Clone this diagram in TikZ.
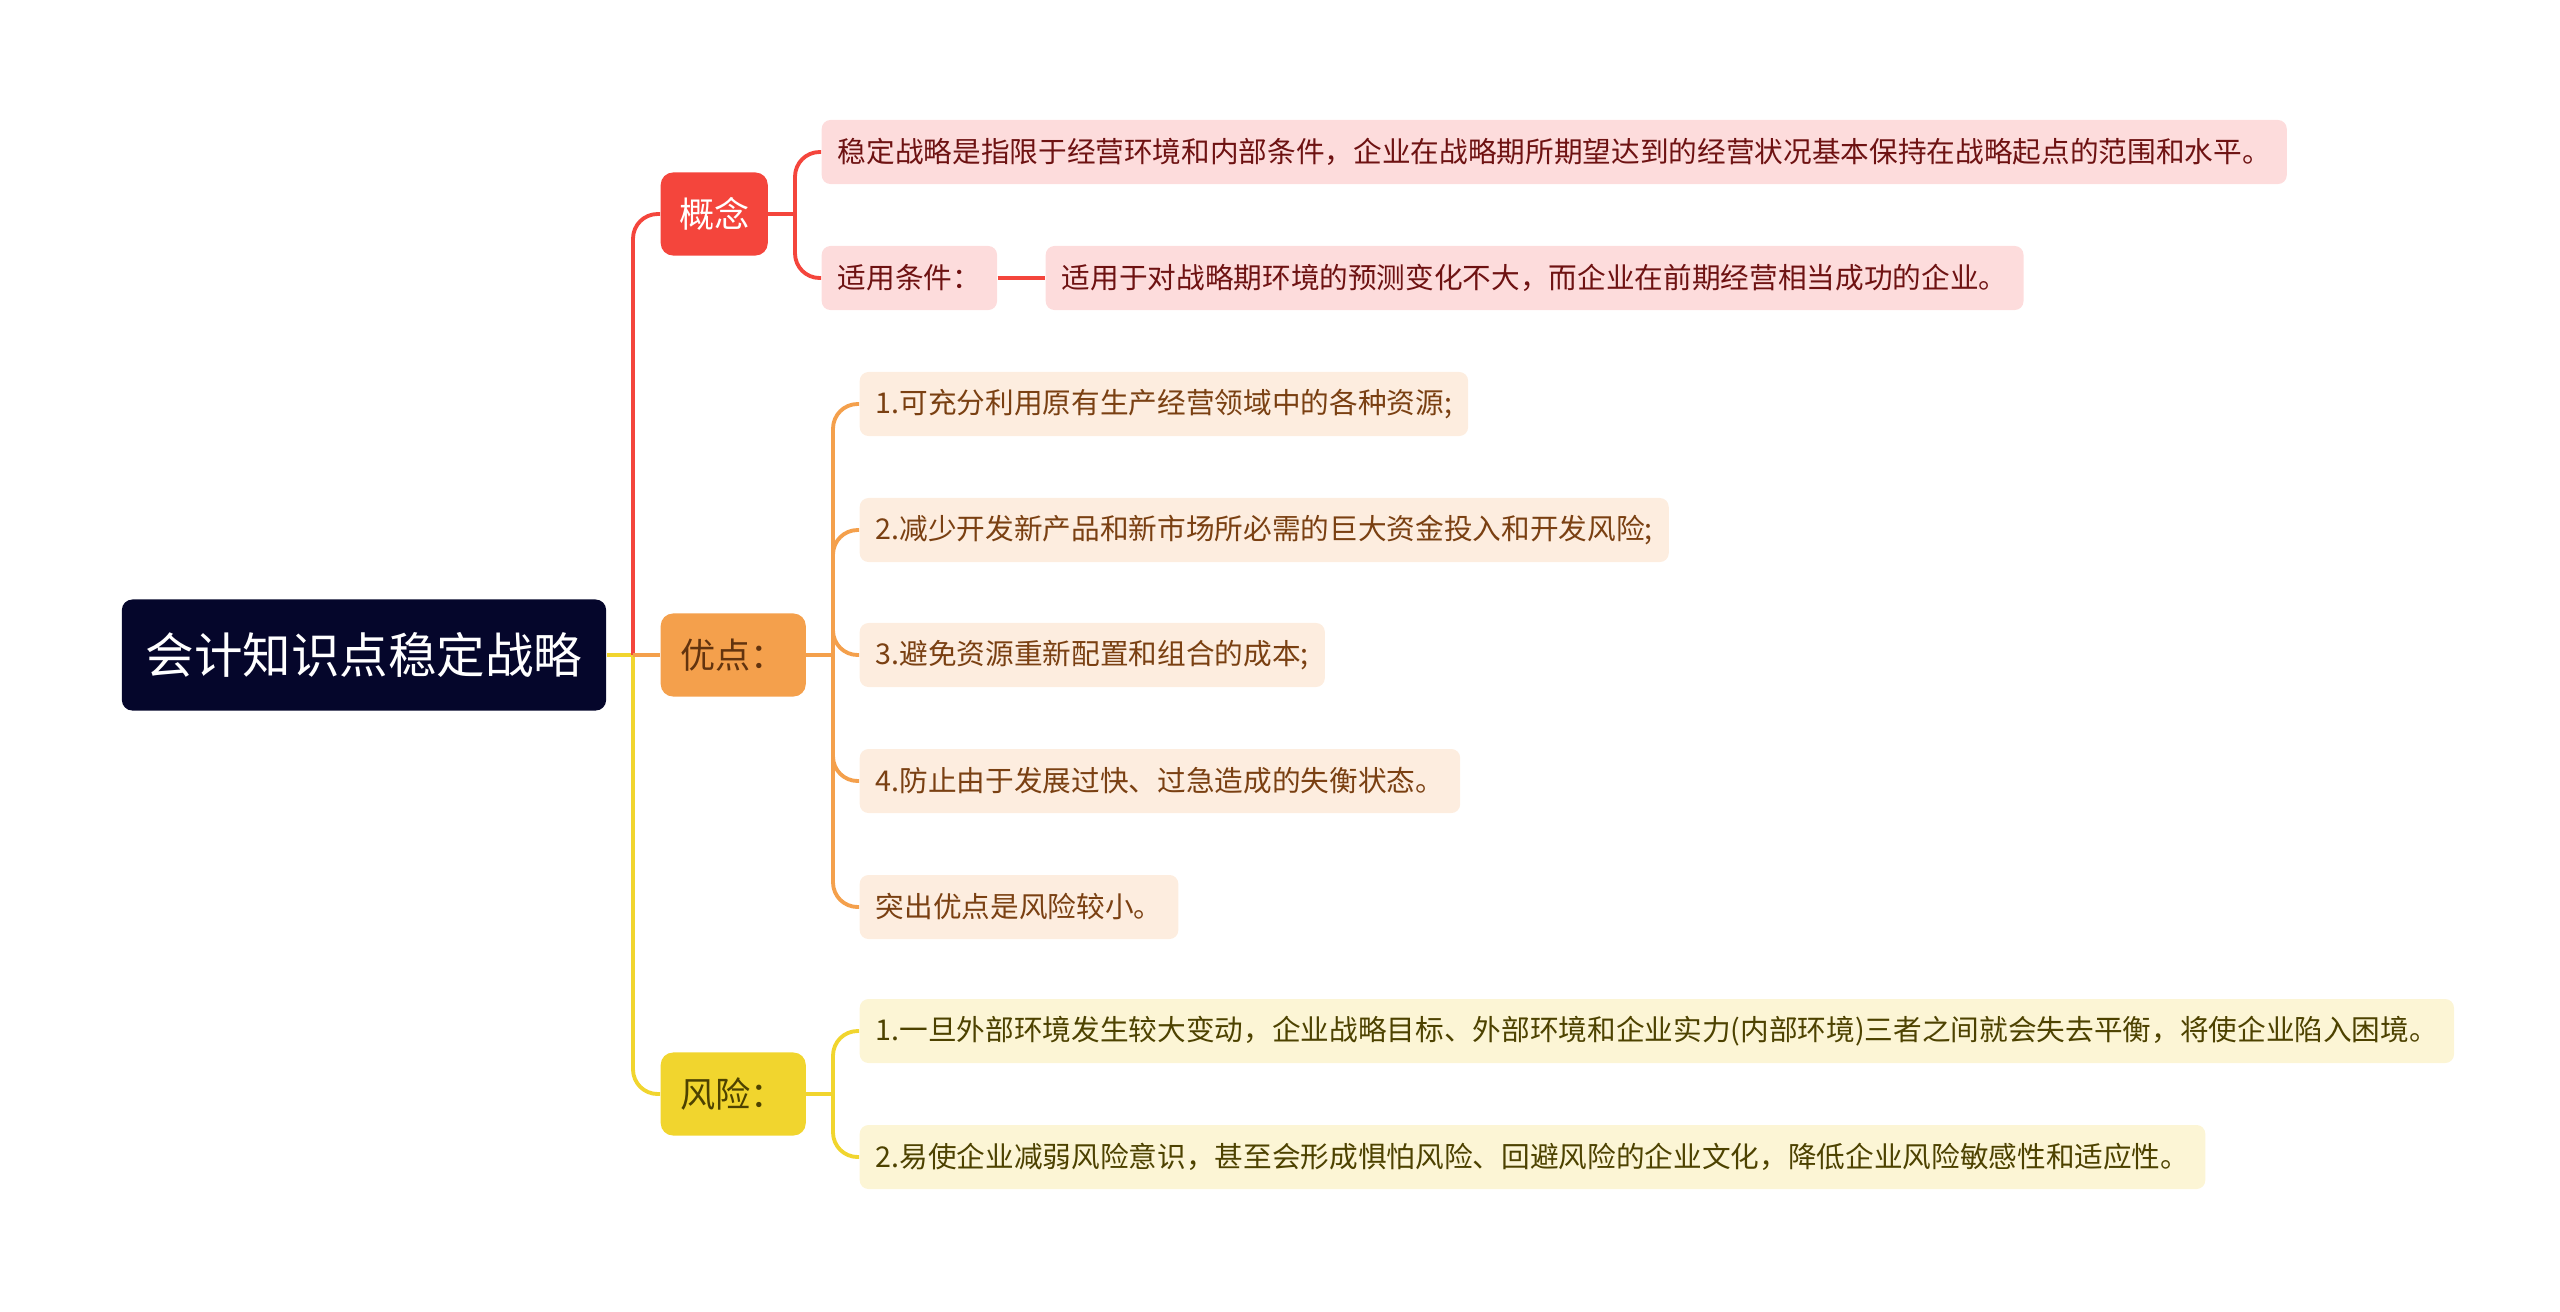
\documentclass[tikz,border=0pt]{standalone}
\usepackage{fontspec}
\setmainfont{Noto Sans CJK SC}
\usetikzlibrary{calc}
\definecolor{rootbg}{HTML}{05062B}
\definecolor{gnred}{HTML}{F4453C}
\definecolor{ydorange}{HTML}{F4A04C}
\definecolor{fxyellow}{HTML}{F1D52E}
\definecolor{gnleaf}{HTML}{FDDCDC}
\definecolor{ydleaf}{HTML}{FDEDDF}
\definecolor{fxleaf}{HTML}{FCF5D5}
\definecolor{gntext}{HTML}{6E1212}
\definecolor{ydtext}{HTML}{7A4012}
\definecolor{fxtext}{HTML}{4D4200}

\begin{document}
\begin{tikzpicture}[
  x=0.01cm, y=-0.01cm,
  every node/.style={anchor=west, inner sep=0pt, align=left},
  root/.style={fill=rootbg, text=white, rounded corners=3pt, minimum width=4.84cm, minimum height=1.11cm, font=\fontsize{13.8}{16}\selectfont},
  topic/.style={rounded corners=3.5pt, minimum height=0.83cm, font=\fontsize{10}{12}\selectfont},
  leaf/.style={rounded corners=2.5pt, minimum height=0.64cm, inner xsep=0.16cm, font=\fontsize{8.15}{10}\selectfont},
  gnleafbox/.style={leaf, fill=gnleaf, text=gntext},
  ydleafbox/.style={leaf, fill=ydleaf, text=ydtext},
  fxleafbox/.style={leaf, fill=fxleaf, text=fxtext},
  redln/.style={draw=gnred, line width=1.1pt, rounded corners=7pt},
  orgln/.style={draw=ydorange, line width=1.1pt, rounded corners=7pt},
  yelln/.style={draw=fxyellow, line width=1.1pt, rounded corners=7pt}
]
\useasboundingbox (0,0) rectangle (2560,1311);

\node[root, anchor=center] (root) at (364,655) {会计知识点稳定战略};

\node[topic, fill=gnred, text=white, minimum width=1.07cm] (gainian) at (660,214) {概念};
\node[topic, fill=ydorange, text=ydtext!80!black, minimum width=1.45cm] (youdian) at (660,655) {优点：};
\node[topic, fill=fxyellow, text=fxtext, minimum width=1.45cm] (fengxian) at (660,1094) {风险：};

% concept
\node[gnleafbox] (dingyi) at (821,152) {稳定战略是指限于经营环境和内部条件，企业在战略期所期望达到的经营状况基本保持在战略起点的范围和水平。};
\node[gnleafbox] (tiaojian) at (821,278) {适用条件：};
\node[gnleafbox] (tiaojiantxt) at (1045,278) {适用于对战略期环境的预测变化不大，而企业在前期经营相当成功的企业。};

% advantages
\node[ydleafbox] (yd1) at (859,404) {1.可充分利用原有生产经营领域中的各种资源;};
\node[ydleafbox] (yd2) at (859,530) {2.减少开发新产品和新市场所必需的巨大资金投入和开发风险;};
\node[ydleafbox] (yd3) at (859,655) {3.避免资源重新配置和组合的成本;};
\node[ydleafbox] (yd4) at (859,781) {4.防止由于发展过快、过急造成的失衡状态。};
\node[ydleafbox] (yd5) at (859,907) {突出优点是风险较小。};

% risks
\node[fxleafbox] (fx1) at (859,1031) {1.一旦外部环境发生较大变动，企业战略目标、外部环境和企业实力(内部环境)三者之间就会失去平衡，将使企业陷入困境。};
\node[fxleafbox] (fx2) at (859,1157) {2.易使企业减弱风险意识，甚至会形成惧怕风险、回避风险的企业文化，降低企业风险敏感性和适应性。};

\coordinate (trunk) at (633,655);
\coordinate (gnfork) at (795,214);
\coordinate (ydfork) at (833,655);
\coordinate (fxfork) at (833,1094);

\draw[yelln] (root.east) -- (trunk);
\draw[redln] (trunk) |- (gainian.west);
\draw[yelln] (trunk) |- (fengxian.west);
\draw[orgln] (trunk) -- (youdian.west);

\draw[redln] (gainian.east) -- (gnfork);
\draw[redln] (gnfork) |- (dingyi.west);
\draw[redln] (gnfork) |- (tiaojian.west);
\draw[redln] (tiaojian.east) -- (tiaojiantxt.west);

\draw[orgln] (youdian.east) -- (ydfork);
\foreach \i in {1,...,5}
  \draw[orgln] (ydfork) |- (yd\i.west);

\draw[yelln] (fengxian.east) -- (fxfork);
\draw[yelln] (fxfork) |- (fx1.west);
\draw[yelln] (fxfork) |- (fx2.west);
\end{tikzpicture}
\end{document}
